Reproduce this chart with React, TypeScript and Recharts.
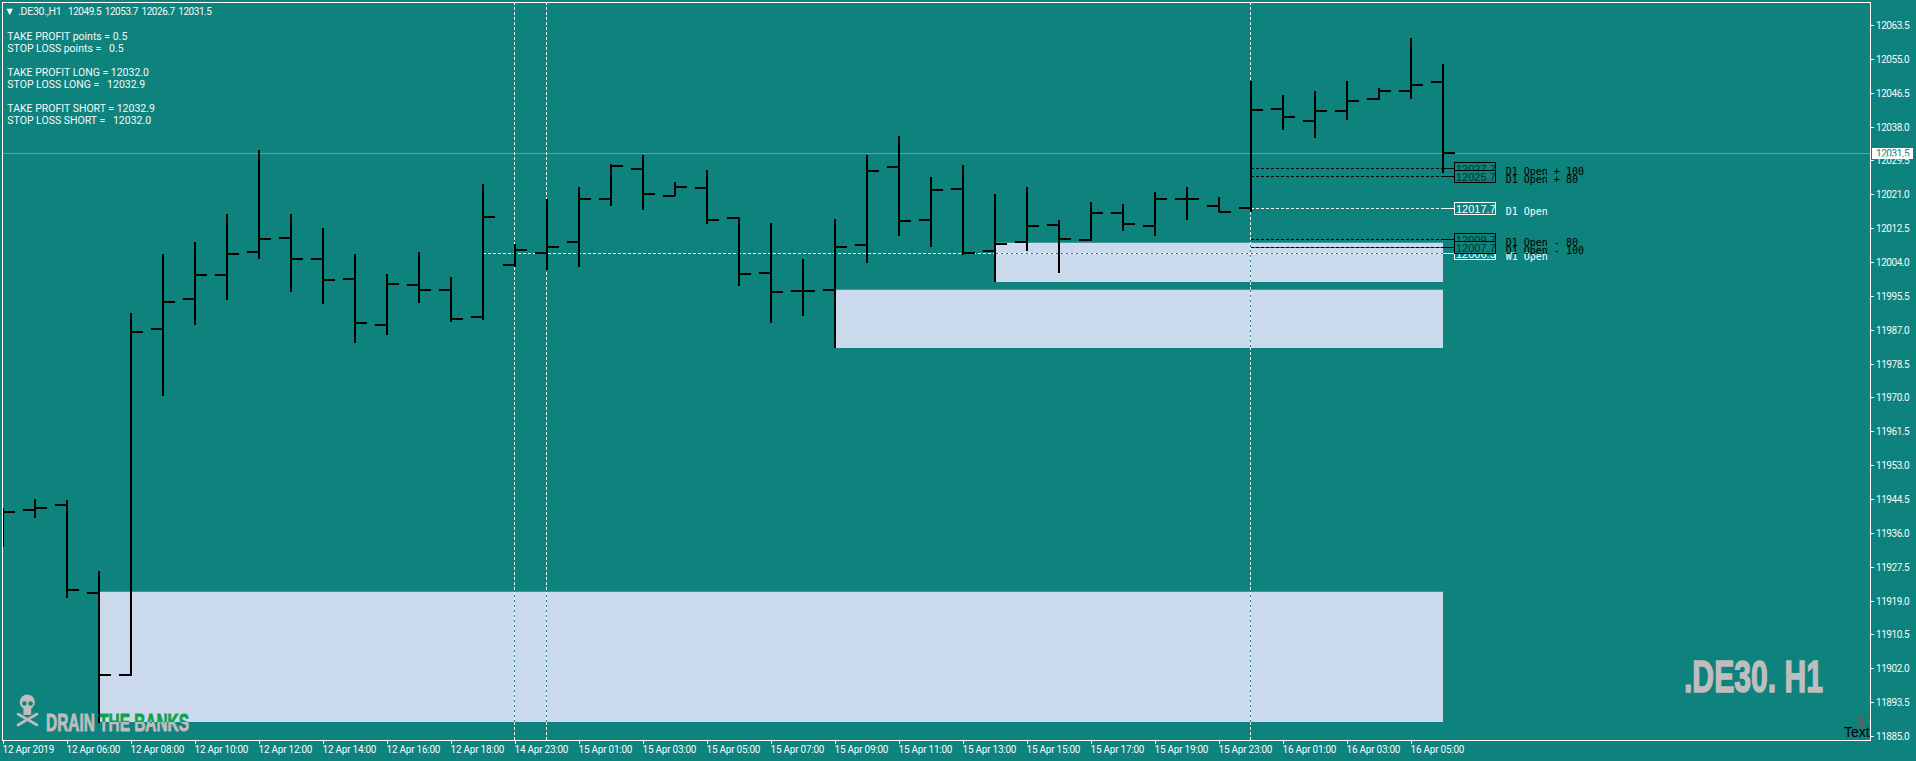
import React from 'react';
import { ComposedChart, XAxis, YAxis, Bar, ReferenceArea, ReferenceLine, ReferenceDot } from 'recharts';

const opens = [11941.0, 11941.7, 11943.0, 11920.9, 11900.3, 11987.2, 11994.7, 12000.7, 12006.5, 12010.0, 12004.8, 11999.7, 11988.2, 11998.2, 11997.0, 11990.2, 12003.2, 12006.3, 12009.0, 12019.8, 12027.3, 12020.6, 12022.6, 12015.0, 12001.2, 11996.7, 11997.0, 12008.3, 12027.9, 12014.5, 12022.3, 12006.8, 12009.0, 12013.3, 12009.5, 12016.3, 12013.0, 12019.8, 12018.1, 12017.6, 12042.4, 12039.4, 12041.9, 12044.9, 12046.9, 12049.2];
const highs = [11942.2, 11944.5, 11944.2, 11926.4, 11991.1, 12005.9, 12008.9, 12016.0, 12032.1, 12016.0, 12012.5, 12005.9, 12000.9, 12006.4, 12000.2, 12023.6, 12008.4, 12019.7, 12022.8, 12028.5, 12030.8, 12024.0, 12027.0, 12015.2, 12013.7, 12004.7, 12014.7, 12030.8, 12035.6, 12025.3, 12028.3, 12021.0, 12022.8, 12014.5, 12019.0, 12018.5, 12021.5, 12022.8, 12020.2, 12049.4, 12045.9, 12046.9, 12049.4, 12047.6, 12060.2, 12053.7];
const lows = [11932.3, 11939.8, 11919.7, 11888.3, 11900.0, 11970.2, 11988.0, 11994.5, 12004.8, 11996.3, 11993.5, 11983.5, 11985.5, 11993.5, 11989.0, 11989.5, 12002.6, 12001.8, 12002.8, 12017.9, 12017.1, 12020.4, 12013.4, 11997.8, 11988.5, 11990.5, 11982.2, 12003.8, 12010.6, 12007.8, 12005.6, 11998.8, 12006.8, 12001.1, 12009.1, 12011.6, 12010.4, 12014.4, 12016.4, 12016.4, 12037.2, 12035.2, 12039.7, 12044.5, 12045.0, 12026.4];
const closes = [11941.2, 11942.2, 11921.6, 11900.3, 11986.4, 11994.0, 12000.7, 12006.0, 12009.8, 12004.8, 11999.5, 11988.7, 11998.5, 11997.0, 11989.7, 12015.3, 12007.0, 12007.8, 12019.8, 12028.1, 12021.1, 12022.8, 12014.5, 12001.0, 11996.5, 11996.7, 12007.8, 12026.8, 12014.3, 12022.1, 12006.3, 12008.5, 12013.0, 12009.8, 12016.3, 12013.5, 12019.8, 12019.8, 12016.6, 12042.2, 12040.4, 12041.9, 12044.4, 12046.9, 12048.4, 12031.4];

const axisBars = [0, 2, 4, 6, 8, 10, 12, 14, 16, 18, 20, 22, 24, 26, 28, 30, 32, 34, 36, 38, 40, 42, 44];
const axisLabels = ['12 Apr 2019', '12 Apr 06:00', '12 Apr 08:00', '12 Apr 10:00', '12 Apr 12:00', '12 Apr 14:00', '12 Apr 16:00', '12 Apr 18:00', '14 Apr 23:00', '15 Apr 01:00', '15 Apr 03:00', '15 Apr 05:00', '15 Apr 07:00', '15 Apr 09:00', '15 Apr 11:00', '15 Apr 13:00', '15 Apr 15:00', '15 Apr 17:00', '15 Apr 19:00', '15 Apr 23:00', '16 Apr 01:00', '16 Apr 03:00', '16 Apr 05:00'];
const priceTicks = [11885, 11893.5, 11902, 11910.5, 11919, 11927.5, 11936, 11944.5, 11953, 11961.5, 11970, 11978.5, 11987, 11995.5, 12004, 12012.5, 12021, 12029.5, 12038, 12046.5, 12055, 12063.5];

const separatorBars = [16, 17, 39];
// zones: first bar, last bar, top price, bottom price
const zoneStart = [3, 26, 31];
const zoneEnd = [45, 45, 45];
const zoneTop = [11921.2, 11997.0, 12008.8];
const zoneBottom = [11888.5, 11982.4, 11999.0];

const levelPrices = [12027.5, 12025.5, 12017.5, 12006.2, 12009.7, 12007.7];
const levelTexts = ['12027.7', '12025.7', '12017.7', '12006.3', '12009.7', '12007.7'];
const levelNames = ['D1 Open + 100', 'D1 Open + 80', 'D1 Open', 'W1 Open', 'D1 Open - 80', 'D1 Open - 100'];
const levelFrom = [39, 39, 39, 15, 39, 39];
const levelColors = ['#000000', '#000000', '#ffffff', '#ffffff', '#000000', '#000000'];

const lastPrice = 12031.3;
const lastPriceText = '12031.5';
const X_MAX = 58.344;
const LEVEL_END = 45.34;

const infoLines = [
  { y: 36, text: 'TAKE PROFIT points = 0.5' },
  { y: 48, text: 'STOP LOSS points =   0.5' },
  { y: 72, text: 'TAKE PROFIT LONG = 12032.0' },
  { y: 84, text: 'STOP LOSS LONG =   12032.9' },
  { y: 108, text: 'TAKE PROFIT SHORT = 12032.9' },
  { y: 120, text: 'STOP LOSS SHORT =   12032.0' },
];

const BG = '#0E827D';
const ZONE = '#CAD9EB';
const AXIS_TEXT = '#F4FBFA';

const data = highs.map((h, i) => ({
  idx: i,
  open: opens[i],
  high: h,
  low: lows[i],
  close: closes[i],
  range: [lows[i], h],
}));

const OhlcBar = (props: any) => {
  const { x, y, width, height, payload } = props;
  const cx = Math.round(x + width / 2);
  const total = payload.high - payload.low;
  const top = Math.round(y);
  const openY = Math.round(y + ((payload.high - payload.open) / total) * height);
  const closeY = Math.round(y + ((payload.high - payload.close) / total) * height);
  return (
    <g fill="#000" shapeRendering="crispEdges">
      <rect x={cx - 1} y={top} width={2} height={Math.round(height)} />
      <rect x={cx - 12} y={openY - 1} width={12} height={2} />
      <rect x={cx} y={closeY - 1} width={12} height={2} />
    </g>
  );
};

const XTick = (props: any) => {
  const { x, payload } = props;
  const i = axisBars.indexOf(payload.value);
  const px = Math.round(x);
  return (
    <g>
      <rect x={px} y={741} width={1} height={3} fill="#fff" shapeRendering="crispEdges" />
      <text x={x - 0.4} y={753} fill={AXIS_TEXT} fontFamily="Roboto" fontSize={10} letterSpacing={-0.25}>
        {axisLabels[i]}
      </text>
    </g>
  );
};

const YTick = (props: any) => {
  const { y, payload } = props;
  return (
    <g>
      <rect x={1871} y={Math.round(y)} width={3} height={1} fill="#fff" shapeRendering="crispEdges" />
      <text x={1876} y={y + 4} fill={AXIS_TEXT} fontFamily="Roboto" fontSize={10} letterSpacing={-0.45}>
        {payload.value.toFixed(1)}
      </text>
    </g>
  );
};

const LastPriceTag = (props: any) => {
  const { cx, cy } = props;
  return (
    <g>
      <rect x={cx + 2} y={Math.round(cy) - 5} width={41} height={11} fill="#fff" shapeRendering="crispEdges" />
      <text x={cx + 6} y={cy + 4} fill={BG} fontFamily="Roboto" fontSize={10} letterSpacing={-0.45}>
        {lastPriceText}
      </text>
    </g>
  );
};

const levelTag = (i: number) => (props: any) => {
  const { cx, cy } = props;
  const color = levelColors[i];
  const top = Math.round(cy) - 6;
  const left = Math.round(cx);
  return (
    <g>
      <rect x={left + 0.5} y={top + 0.5} width={41} height={12} fill={BG} stroke={color} strokeWidth={1} />
      <text x={left + 2} y={top + 10.5} fill={color === '#000000' ? '#04302e' : '#fff'} fontFamily="Liberation Sans" fontSize={11}>
        {levelTexts[i]}
      </text>
      <text x={left + 51.7} y={cy + 6.5} fill={color} fontFamily="DejaVu Sans Mono" fontSize={10}>
        {levelNames[i]}
      </text>
    </g>
  );
};

const Skull = ({ fill }: { fill: string }) => (
  <g>
    <ellipse cx={27.3} cy={702} rx={7.6} ry={7.6} fill={fill} />
    <rect x={23.4} y={707} width={7.8} height={8} rx={1} fill={fill} />
    <circle cx={24.4} cy={703.5} r={2.2} fill={BG} />
    <circle cx={30.6} cy={703.5} r={2.2} fill={BG} />
    <line x1={18} y1={714} x2={37} y2={725} stroke={fill} strokeWidth={2.6} strokeLinecap="round" />
    <line x1={37} y1={714} x2={18} y2={725} stroke={fill} strokeWidth={2.6} strokeLinecap="round" />
  </g>
);

const App = () => (
  <div style={{ position: 'absolute', left: 0, top: 0, width: 1916, height: 761, background: BG, overflow: 'hidden' }}>
    <div style={{ position: 'absolute', left: 2, top: 2, width: 1867, height: 737, border: '1px solid #fff' }} />
    <ComposedChart
      width={1916}
      height={761}
      data={data}
      margin={{ top: 3, right: 0, bottom: 0, left: 3 }}
      style={{ position: 'absolute', left: 0, top: 0 }}
    >
      <XAxis
        dataKey="idx"
        type="number"
        scale="linear"
        domain={[0, X_MAX]}
        allowDataOverflow
        ticks={axisBars}
        interval={0}
        height={21}
        axisLine={false}
        tickLine={false}
        tick={XTick}
      />
      <YAxis
        type="number"
        orientation="right"
        domain={[11883.99, 12069.02]}
        allowDataOverflow
        ticks={priceTicks}
        interval={0}
        width={46}
        axisLine={false}
        tickLine={false}
        tick={YTick}
      />

      {zoneStart.map((s, i) => (
        <ReferenceArea key={`zone${i}`} x1={s} x2={zoneEnd[i]} y1={zoneTop[i]} y2={zoneBottom[i]} fill={ZONE} fillOpacity={1} stroke="none" zIndex={100} />
      ))}

      <ReferenceLine y={lastPrice} stroke="#4DA9A4" strokeWidth={1} shapeRendering="crispEdges" zIndex={200} />

      {separatorBars.map((b) => (
        <React.Fragment key={`sep${b}`}>
          <ReferenceLine x={b} stroke={BG} strokeWidth={1} shapeRendering="crispEdges" zIndex={200} />
          <ReferenceLine x={b} stroke="#fff" strokeWidth={1} strokeDasharray="3 2" shapeRendering="crispEdges" zIndex={200} />
        </React.Fragment>
      ))}

      {levelPrices.map((p, i) => (
        <React.Fragment key={`lvl${i}`}>
          <ReferenceLine segment={[{ x: levelFrom[i], y: p }, { x: 45, y: p }]} stroke={BG} strokeWidth={1} shapeRendering="crispEdges" zIndex={200} />
          <ReferenceLine segment={[{ x: levelFrom[i], y: p }, { x: 45, y: p }]} stroke={levelColors[i]} strokeWidth={1} strokeDasharray="3 2" shapeRendering="crispEdges" zIndex={200} />
          <ReferenceLine segment={[{ x: 45, y: p }, { x: LEVEL_END, y: p }]} stroke={levelColors[i]} strokeWidth={1} shapeRendering="crispEdges" zIndex={200} />
        </React.Fragment>
      ))}

      <Bar dataKey="range" shape={<OhlcBar />} barSize={2} isAnimationActive={false} zIndex={300} />

      <ReferenceDot x={X_MAX} y={lastPrice} r={0} ifOverflow="visible" shape={LastPriceTag} />
      {levelPrices.map((p, i) => (
        <ReferenceDot key={`tag${i}`} x={LEVEL_END} y={p} r={0} shape={levelTag(i)} />
      ))}
    </ComposedChart>

    {/* terminal text over the chart */}
    <svg width={1916} height={761} style={{ position: 'absolute', left: 0, top: 0, pointerEvents: 'none' }}>
      <defs>
        <clipPath id="onZone"><rect x={100} y={700} width={100} height={22} /></clipPath>
        <clipPath id="offZone"><path d="M0 690H99V722H200V740H0Z" /></clipPath>
      </defs>
      <text x={6.5} y={14} fill="#fff" fontFamily="DejaVu Sans" fontSize={8}>▼</text>
      <text x={18} y={15} fill={AXIS_TEXT} fontFamily="Roboto" fontSize={10.5} letterSpacing={-0.25}>.DE30.,H1</text>
      <text x={68} y={15} fill={AXIS_TEXT} fontFamily="Roboto" fontSize={10} letterSpacing={-0.45} wordSpacing={1.5}>12049.5 12053.7 12026.7 12031.5</text>
      {infoLines.map((l) => (
        <text key={l.y} x={7.3} y={l.y + 4} fill={AXIS_TEXT} fontFamily="Roboto" fontSize={10.5} style={{ whiteSpace: 'pre' }}>
          {l.text}
        </text>
      ))}

      <Skull fill="#BDBDBD" />
      <text x={46} y={731} fill="#BDBDBD" stroke="#BDBDBD" strokeWidth={0.9} fontFamily="Liberation Sans" fontWeight="bold" fontSize={24.5} textLength={143} lengthAdjust="spacingAndGlyphs" clipPath="url(#offZone)">DRAIN THE BANKS</text>
      <text x={46} y={731} fill="#0FA24A" stroke="#0FA24A" strokeWidth={0.9} fontFamily="Liberation Sans" fontWeight="bold" fontSize={24.5} textLength={143} lengthAdjust="spacingAndGlyphs" clipPath="url(#onZone)">DRAIN THE BANKS</text>

      <text x={1684} y={692} fill="#BEBEBE" stroke="#BEBEBE" strokeWidth={1.5} fontFamily="Liberation Sans" fontWeight="bold" fontSize={44} textLength={139} lengthAdjust="spacingAndGlyphs">.DE30. H1</text>

      <g transform="translate(1848.5,402) scale(0.45)">
        <Skull fill="#586464" />
      </g>
      <text x={1844} y={737} fill="#000" fontFamily="Liberation Sans" fontSize={14}>Text</text>
    </svg>
  </div>
);

export default App;
